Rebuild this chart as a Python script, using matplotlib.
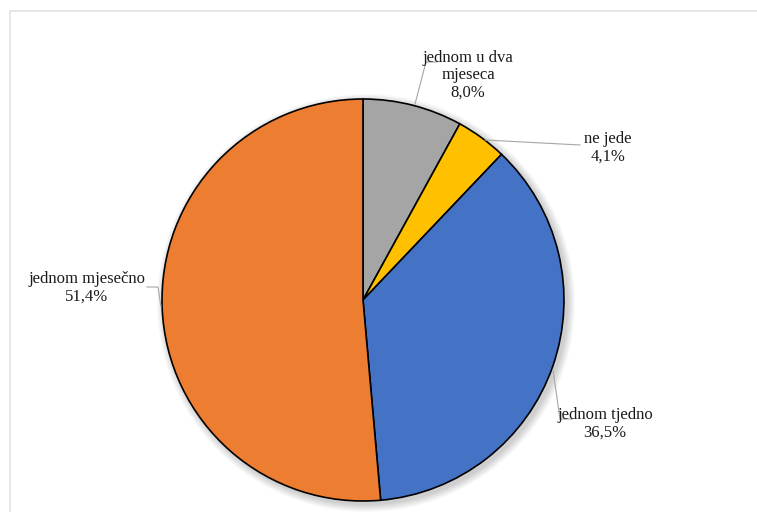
import matplotlib.pyplot as plt
from matplotlib.patches import Circle, Rectangle

# data, clockwise from 12 o'clock
labels = ['jednom u dva\nmjeseca', 'ne jede', 'jednom tjedno', 'jednom mjesečno']
values = [8.0, 4.1, 36.5, 51.4]
pct_text = ['8,0%', '4,1%', '36,5%', '51,4%']
colors = ['#A5A5A5', '#FFC000', '#4472C4', '#ED7D31']

# label centres and leader lines, in pixel coords (y measured from top)
label_pos = [(468, 75), (608, 148), (605, 424), (87, 288)]
leaders = [
    [(415, 104), (426, 62), (437, 62)],
    [(485, 140), (580, 145)],
    [(553, 370), (560, 419), (572, 419)],
    [(161, 307), (158, 287), (147, 287)],
]

W, H = 757, 512
fig = plt.figure(figsize=(W / 100, H / 100), dpi=100)
ax = fig.add_axes([0, 0, 1, 1])

# chart-area border (runs off the right and bottom)
ax.add_patch(Rectangle((10, -5), W + 20, H - 11 + 5, fill=False,
                       edgecolor='#e2e2e2', linewidth=1.2))

cx, cy, r = 363, H - 300, 201

# soft shadow
for i in range(8):
    ax.add_patch(Circle((cx + 3, cy - 3), r + 1 + i, color='#000000',
                        alpha=0.025, linewidth=0, zorder=1))

ax.pie(values, colors=colors, startangle=90, counterclock=False,
       center=(cx, cy), radius=r, frame=True,
       wedgeprops=dict(edgecolor='black', linewidth=1.2, zorder=2))
ax.set_xlim(0, W)
ax.set_ylim(0, H)
ax.set_aspect('equal')
ax.axis('off')

for lab, pct, (x, y), pts in zip(labels, pct_text, label_pos, leaders):
    ax.text(x, H - y, lab + '\n' + pct, ha='center', va='center',
            fontsize=12, family='Liberation Serif', color='#1a1a1a',
            linespacing=1.12, zorder=5)
    xs = [p[0] for p in pts]
    ys = [H - p[1] for p in pts]
    ax.plot(xs, ys, color='#a6a6a6', linewidth=0.8, zorder=4)

fig.savefig('out.png', dpi=100)
